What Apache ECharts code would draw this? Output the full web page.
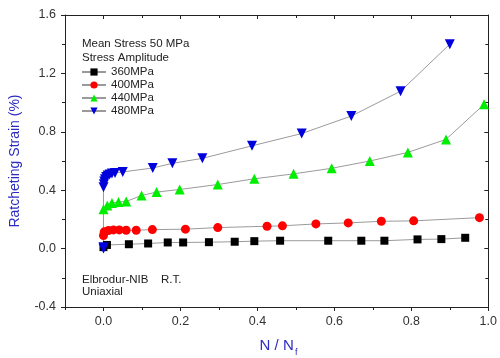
<!DOCTYPE html>
<html>
<head>
<meta charset="utf-8">
<script src="https://cdn.jsdelivr.net/npm/echarts@6/dist/echarts.min.js"></script>
<style>html,body{margin:0;padding:0;background:#fff}#c{width:500px;height:358px}</style>
</head>
<body>
<div id="c"></div>
<script>
// Data: [N/Nf, ratcheting strain %]
var s360 = [[0,0.01],[0.009,0.025],[0.066,0.03],[0.116,0.035],[0.167,0.042],[0.207,0.042],[0.274,0.044],[0.341,0.047],[0.392,0.051],[0.459,0.054],[0.584,0.054],[0.67,0.054],[0.73,0.054],[0.816,0.063],[0.878,0.065],[0.94,0.074]];
var s400 = [[0,0.09],[0.002,0.115],[0.013,0.124],[0.026,0.128],[0.041,0.128],[0.059,0.126],[0.085,0.126],[0.127,0.13],[0.213,0.133],[0.297,0.144],[0.425,0.153],[0.465,0.156],[0.552,0.169],[0.636,0.176],[0.722,0.187],[0.806,0.19],[0.977,0.212]];
var s440 = [[0,0.27],[0.01,0.296],[0.022,0.312],[0.039,0.319],[0.059,0.323],[0.099,0.364],[0.138,0.387],[0.198,0.405],[0.297,0.439],[0.392,0.478],[0.494,0.512],[0.593,0.55],[0.692,0.6],[0.791,0.659],[0.89,0.748],[0.989,0.988]];
var s480 = [[0,0],[0,0.01],[0,0.42],[0.001,0.44],[0.002,0.46],[0.004,0.475],[0.007,0.49],[0.011,0.5],[0.016,0.508],[0.022,0.514],[0.03,0.518],[0.05,0.525],[0.128,0.552],[0.179,0.584],[0.257,0.618],[0.386,0.704],[0.515,0.788],[0.644,0.908],[0.772,1.078],[0.90,1.40]];
var seriesNames = ['360MPa','400MPa','440MPa','480MPa'];
var xMajorTicks = [0,0.2,0.4,0.6,0.8,1.0];
var xMinorTicks = [-0.1,0.1,0.3,0.5,0.7,0.9];

var FONT = 'Liberation Sans, Arial, sans-serif';
var chart = echarts.init(document.getElementById('c'));
function fmt(v){ return v.toFixed(1); }
var lineGray = '#9a9a9a';
var AX = '#222';
function mk(name, data, symbol, color, size, rot){
  return {
    name: name, type: 'line', data: data, xAxisIndex: 0, yAxisIndex: 0,
    symbol: symbol, symbolSize: size, symbolRotate: rot || 0,
    itemStyle: {color: color},
    lineStyle: {color: lineGray, width: 1},
    animation: false, z: 3
  };
}
function xAx(pos, showLine, inside, len, ticks, labels, name){
  var o = {type: 'value', position: pos, min: -0.1, max: 1.0,
    axisLine: {show: showLine, onZero: false, lineStyle: {color: AX, width: 1}},
    axisTick: {show: true, inside: inside, length: len, customValues: ticks, lineStyle: {color: AX}},
    axisLabel: {show: false}, splitLine: {show: false}};
  if (labels) {
    o.axisLabel = {show: true, customValues: ticks, formatter: fmt, fontFamily: FONT, fontSize: 12.5, color: '#333', margin: 8};
  }
  if (name) {
    o.name = name; o.nameLocation = 'middle'; o.nameGap = 31;
    o.nameTextStyle = {fontFamily: FONT, fontSize: 15, color: '#2b2bc0'};
  }
  return o;
}
chart.setOption({
  animation: false,
  grid: {left: 65, right: 10, top: 15, bottom: 49},
  legend: {
    orient: 'vertical', left: 81, top: 66, padding: 0,
    itemWidth: 24, itemHeight: 9, itemGap: 1,
    textStyle: {fontFamily: FONT, fontSize: 11.5, color: '#222', lineHeight: 12},
    data: seriesNames
  },
  xAxis: [
    xAx('bottom', true, false, 4, xMajorTicks, true, 'N / N'),
    xAx('bottom', false, false, 3, xMinorTicks, false),
    xAx('top', true, true, 4, xMajorTicks, false),
    xAx('top', false, true, 3, xMinorTicks, false)
  ],
  yAxis: [
    {type: 'value', position: 'left', min: -0.4, max: 1.6, interval: 0.4,
     name: 'Ratcheting Strain (%)', nameLocation: 'middle', nameGap: 43, nameRotate: 90,
     nameTextStyle: {fontFamily: FONT, fontSize: 14, color: '#2b2bc0'},
     axisLine: {show: true, onZero: false, lineStyle: {color: AX, width: 1}},
     axisTick: {show: true, inside: false, length: 4, lineStyle: {color: AX}},
     minorTick: {show: true, splitNumber: 2, length: 3, lineStyle: {color: AX}},
     axisLabel: {formatter: fmt, fontFamily: FONT, fontSize: 12.5, color: '#333', margin: 9},
     splitLine: {show: false}, minorSplitLine: {show: false}},
    {type: 'value', position: 'right', min: -0.4, max: 1.6, interval: 0.4,
     axisLine: {show: true, onZero: false, lineStyle: {color: AX, width: 1}},
     axisTick: {show: true, inside: true, length: 4, lineStyle: {color: AX}},
     minorTick: {show: true, splitNumber: 2, length: 3, lineStyle: {color: AX}},
     axisLabel: {show: false}, splitLine: {show: false}, minorSplitLine: {show: false}}
  ],
  graphic: [
    {type: 'text', left: 82, top: 38, style: {text: 'Mean Stress 50 MPa', font: '11.5px ' + FONT, fill: '#222'}},
    {type: 'text', left: 82, top: 52, style: {text: 'Stress Amplitude', font: '11.5px ' + FONT, fill: '#222'}},
    {type: 'text', left: 82, top: 274, style: {text: 'Elbrodur-NIB', font: '11.5px ' + FONT, fill: '#222'}},
    {type: 'text', left: 161, top: 274, style: {text: 'R.T.', font: '11.5px ' + FONT, fill: '#222'}},
    {type: 'text', left: 82, top: 286, style: {text: 'Uniaxial', font: '11.5px ' + FONT, fill: '#222'}},
    {type: 'text', left: 295, top: 348, style: {text: 'f', font: '9px ' + FONT, fill: '#2b2bc0'}}
  ],
  series: [
    mk(seriesNames[0], s360, 'rect', '#000000', 8),
    mk(seriesNames[1], s400, 'circle', '#ff0000', 9),
    mk(seriesNames[2], s440, 'triangle', '#00ee00', 10),
    mk(seriesNames[3], s480, 'triangle', '#0000dd', 10, 180)
  ]
});
</script>
</body>
</html>
